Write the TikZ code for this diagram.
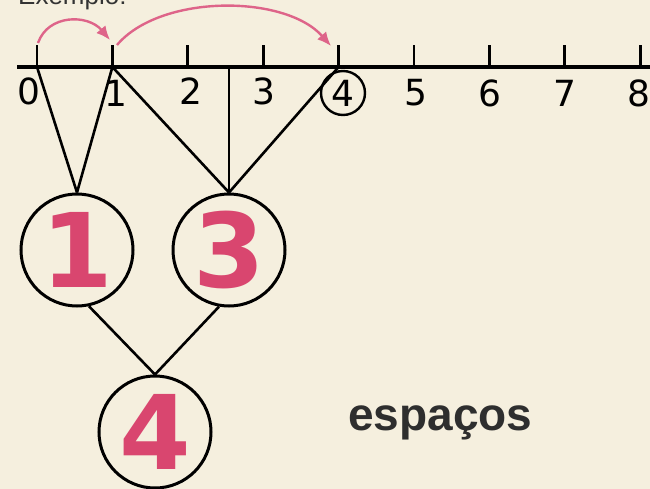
\documentclass[tikz,border=0pt]{standalone}
\usepackage{fontspec}
\setmainfont{Liberation Sans}
\newfontfamily\dejavu{DejaVu Sans}
\usetikzlibrary{arrows.meta}
\definecolor{paper}{HTML}{F5EFDE}
\definecolor{digitred}{HTML}{D9466F}
\definecolor{arrowpink}{HTML}{DE6489}
\begin{document}
\begin{tikzpicture}[x=1pt,y=-1pt,
  axisline/.style={line width=3.2pt},
  tickline/.style={line width=2.8pt},
  conn/.style={line width=2.6pt},
  bigc/.style={circle, draw, line width=3pt, minimum size=112pt, inner sep=0pt, text=digitred, font=\dejavu\bfseries\fontsize{103}{103}\selectfont},
  numlab/.style={font=\dejavu\fontsize{36}{36}\selectfont, inner sep=0pt},
  hop/.style={draw=arrowpink, line width=2.4pt, -{Latex[length=14pt,width=12pt]}}]
\useasboundingbox (0,0) rectangle (650,489);
\clip (0,0) rectangle (650,489);
\fill[paper] (0,0) rectangle (650,489);

\node[anchor=base west, inner sep=0pt, font=\fontsize{26}{26}\selectfont, text=black!80] (ex) at (18,5) {Exemplo:};

% number line
\coordinate (L) at (17,67);
\coordinate (R) at (650,67);
\draw[axisline] (L) -- (R);
\foreach \i in {0,...,8} {
  \coordinate (t\i) at ({37+75.4*\i},67);
  \coordinate (u\i) at ({37+75.4*\i},45);
  \draw[tickline] (t\i) -- (u\i);
}
\coordinate (m) at (229,67);

% labels
\node[numlab] (n0) at (29,91) {0};
\node[numlab] (n1) at (116,93) {1};
\node[numlab] (n2) at (191,91) {2};
\node[numlab] (n3) at (264,91) {3};
\node[numlab, circle, draw, line width=2.4pt, minimum size=44pt] (n4) at (343,93) {4};
\node[numlab] (n5) at (416,93) {5};
\node[numlab] (n6) at (490,93) {6};
\node[numlab] (n7) at (565,93) {7};
\node[numlab] (n8) at (639,93) {8};

% big circles
\node[bigc] (c1) at (77,250) {1};
\node[bigc] (c3) at (229,250) {3};
\node[bigc] (c4) at (155,432) {4};

% connectors
\draw[conn] (t0) -- (c1.north);
\draw[conn] (t1) -- (c1.north);
\draw[conn] (t1) -- (c3.north);
\draw[conn] (m) -- (c3.north);
\draw[conn] (t4) -- (c3.north);
\draw[conn] (c1.-78) -- (c4.north);
\draw[conn] (c3.-100) -- (c4.north);

% hops
\coordinate (h0s) at (38,43);
\coordinate (h0e) at (110,40);
\coordinate (h1s) at (117,45);
\coordinate (h1e) at (331,46);
\draw[hop] (h0s) .. controls (48,14) and (88,14) .. (h0e);
\draw[hop] (h1s) .. controls (160,-6) and (285,-6) .. (h1e);

\node[anchor=base west, inner sep=0pt, font=\bfseries\fontsize{46}{46}\selectfont, text=black!82] (esp) at (348,430) {espaços};
\end{tikzpicture}
\end{document}
